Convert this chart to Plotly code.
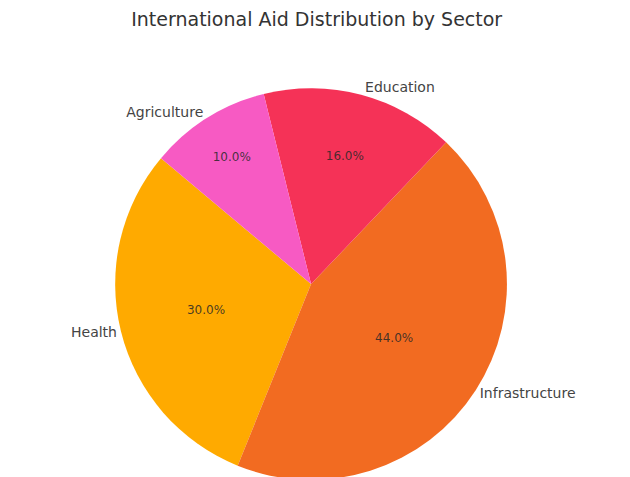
import plotly.graph_objects as go

sectors = ["Health", "Infrastructure", "Education", "Agriculture"]
shares = [30, 44, 16, 10]
colors = ["#FFAA00", "#F26B21", "#F53257", "#F75AC3"]
title_text = "International Aid Distribution by Sector"

dom = dict(x=[0.0, 0.984], y=[0.0, 0.83])

fig = go.Figure()
fig.add_trace(go.Pie(
    labels=sectors, values=shares, sort=False, direction="counterclockwise",
    rotation=-158, domain=dom,
    marker=dict(colors=colors, line=dict(width=0)),
    texttemplate="%{percent:.1%}", textposition="inside",
    insidetextorientation="horizontal",
    textfont=dict(family="DejaVu Sans", size=12, color="rgba(40,40,40,0.85)"),
    showlegend=False, hoverinfo="label+percent",
))
fig.add_trace(go.Pie(
    labels=sectors, values=shares, sort=False, direction="counterclockwise",
    rotation=-158, domain=dom,
    marker=dict(colors=["rgba(0,0,0,0)"] * len(sectors), line=dict(width=0)),
    texttemplate="%{label}", textposition="outside",
    outsidetextfont=dict(family="DejaVu Sans", size=14, color="#444444"),
    showlegend=False, hoverinfo="skip",
))
fig.update_layout(
    width=630, height=477,
    margin=dict(l=0, r=0, t=0, b=0),
    paper_bgcolor="white", plot_bgcolor="white",
    title=dict(text=title_text, x=0.49, xanchor="center", y=0.976, yanchor="middle",
               font=dict(family="DejaVu Sans", size=19, color="#333333")),
)
fig.write_html("out.html")
